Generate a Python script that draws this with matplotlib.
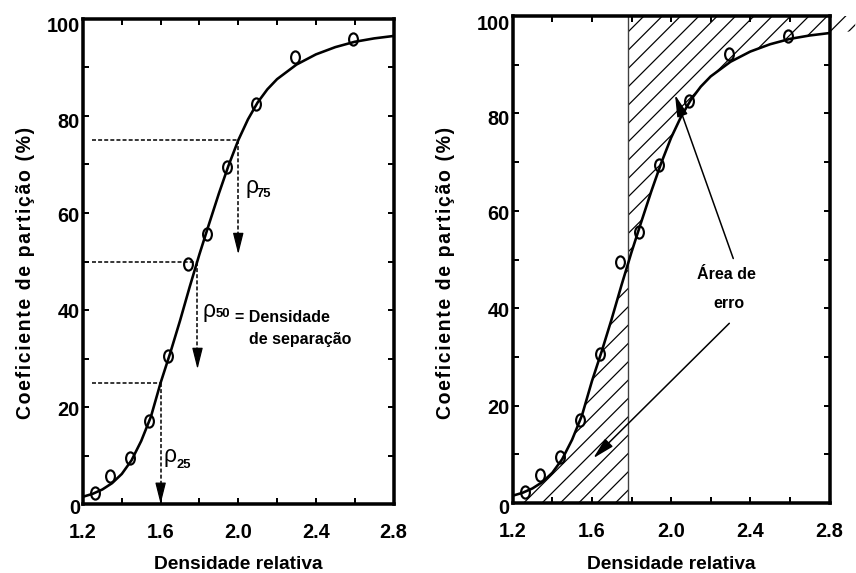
import matplotlib
matplotlib.use('Agg')
import matplotlib.pyplot as plt
import numpy as np
from matplotlib import font_manager
from matplotlib.path import Path
from matplotlib.transforms import Affine2D, ScaledTranslation
from matplotlib.patches import Rectangle

# pontos medidos (densidade relativa x coeficiente de particao)
dens = [1.26, 1.34, 1.44, 1.54, 1.64, 1.74, 1.84, 1.94, 2.09, 2.29, 2.59]
coef = [2.2, 5.7, 9.4, 17.1, 30.6, 49.5, 55.7, 69.5, 82.5, 92.2, 95.8]

# curva de particao
curve_x = [1.20, 1.25, 1.30, 1.35, 1.40, 1.45, 1.50, 1.55, 1.60, 1.65, 1.70,
           1.75, 1.80, 1.85, 1.90, 1.95, 2.00, 2.05, 2.10, 2.15, 2.20, 2.30,
           2.40, 2.50, 2.60, 2.70, 2.80]
curve_y = [1.5, 2.1, 3.0, 4.3, 6.2, 9.0, 13.0, 18.0, 25.0, 31.2, 37.8,
           44.8, 51.5, 57.8, 64.0, 69.8, 75.0, 79.3, 82.8, 85.5, 87.6, 90.6,
           92.7, 94.2, 95.3, 96.0, 96.5]

# rho25, rho50, rho75
rho_x = [1.60, 1.79, 2.00]
rho_y = [25, 50, 75]
rho_tip = [0.0, 27.8, 51.5]
rho_sub = ['25', '50', '75']

cut = 1.78  # densidade de corte (grafico da direita)

x_major = [1.2, 1.6, 2.0, 2.4, 2.8]
x_minor = [1.4, 1.8, 2.2, 2.6]
x_labels = ['1.2', '1.6', '2.0', '2.4', '2.8']
y_major = [0, 20, 40, 60, 80, 100]
y_minor = [10, 30, 50, 70, 90]
y_labels = ['0', '20', '40', '60', '80', '100']
y_shift = [3, 1, 1, 2, 4, 6]  # deslocamento (px) dos rotulos no original

DPI = 110
names = {f.name for f in font_manager.fontManager.ttflist}
if 'Liberation Sans Narrow' in names:
    NARROW = ['Liberation Sans Narrow', 'DejaVu Sans']
    k = 1.1
else:
    NARROW = ['Liberation Sans', 'DejaVu Sans']
    k = 1.0
WIDE = ['Liberation Sans', 'DejaVu Sans']

plt.rcParams['hatch.linewidth'] = 0.8

fig = plt.figure(figsize=(856 / DPI, 573 / DPI), dpi=DPI)
ax1 = fig.add_axes([83 / 856, 1 - 504 / 573, 310.5 / 856, 485 / 573])
ax2 = fig.add_axes([512.7 / 856, 1 - 503 / 573, 316.8 / 856, 487 / 573])

ylabel = '\u200a'.join('Coeficiente de partição (%)')
oval = Path.unit_circle().transformed(Affine2D().scale(0.72, 1.0))


def style(ax, lx, ly, xb):
    ax.set_xlim(1.2, 2.8)
    ax.set_ylim(0, 100)
    ax.set_xticks(x_major)
    ax.set_xticks(x_minor, minor=True)
    ax.set_yticks(y_major)
    ax.set_yticks(y_minor, minor=True)
    ax.set_xticklabels(x_labels, family=NARROW, weight='bold', fontsize=13 * k)
    ax.set_yticklabels(y_labels, family=NARROW, weight='bold', fontsize=13 * k)
    ax.tick_params(which='both', direction='in', top=True, right=True,
                   length=4, width=1.3)
    ax.tick_params(axis='x', pad=12.5)
    ax.tick_params(axis='y', pad=2)
    for tick, dy in zip(ax.yaxis.get_major_ticks(), y_shift):
        off = ScaledTranslation(0, -dy / DPI, fig.dpi_scale_trans)
        tick.label1.set_transform(tick.label1.get_transform() + off)
    for s in ax.spines.values():
        s.set_linewidth(2.3)
    ax.set_xlabel('Densidade relativa', family=NARROW, weight='bold',
                  fontsize=12.5 * k, va='baseline')
    ax.xaxis.set_label_coords(0.5, xb)
    ax.set_ylabel(ylabel, family=WIDE, weight='bold', fontsize=12.8, va='baseline')
    ax.yaxis.set_label_coords(lx, ly)


def curve_and_points(ax):
    ax.plot(curve_x, curve_y, color='k', lw=1.7, zorder=3)
    ax.plot(dens, coef, ls='none', marker=oval, ms=8, mfc='none',
            mec='k', mew=1.4, zorder=4)


# ---------------- grafico da esquerda ----------------
style(ax1, -0.1675, 0.476, -0.134)
curve_and_points(ax1)

dash = (0, (2.6, 1.4))
head = 3.7
for xr, yr, tip in zip(rho_x, rho_y, rho_tip):
    ax1.plot([1.245, xr], [yr, yr], color='k', lw=1, ls=dash)
    ax1.plot([xr, xr], [yr, tip + head], color='k', lw=1, ls=dash)
    ax1.annotate('', xy=(xr, tip), xytext=(xr, tip + head),
                 arrowprops=dict(arrowstyle='-|>,head_length=1.2,head_width=0.3',
                                 fc='k', ec='k', lw=0.8, shrinkA=0, shrinkB=0,
                                 mutation_scale=10))

rho_pos = [(1.617, 8.7), (1.818, 38.6), (2.035, 64.2)]
sub_pos = [(1.684, 7.4), (1.885, 38.5), (2.096, 63.2)]
for (px, py), (sx, sy), s in zip(rho_pos, sub_pos, rho_sub):
    ax1.text(px, py, 'ρ', family=WIDE, fontsize=15, va='baseline', ha='left')
    ax1.text(sx, sy, s, family=NARROW, weight='bold', fontsize=8.5 * k,
             va='baseline', ha='left')

ax1.text(1.983, 37.6, '= Densidade', family=NARROW, weight='bold',
         fontsize=10.5 * k, va='baseline', ha='left')
ax1.text(2.055, 32.9, 'de separação', family=NARROW, weight='bold',
         fontsize=10.5 * k, va='baseline', ha='left')

# ---------------- grafico da direita ----------------
style(ax2, -0.195, 0.472, -0.1355)

low = ax2.fill_between(curve_x, 0, curve_y, facecolor='none', edgecolor='k',
                       hatch='//', linewidth=0, zorder=1)
low.set_clip_path(Rectangle((1.2, 0), cut - 1.2, 100, transform=ax2.transData))
high = ax2.fill_between(curve_x, curve_y, 100, facecolor='none', edgecolor='k',
                        hatch='//', linewidth=0, zorder=1)
high.set_clip_path(Rectangle((cut, 0), 2.8 - cut, 100, transform=ax2.transData))
# pedaco da hachura que sai do quadro
ax2.fill_between([2.8, 2.93], [96.5, 96.9], 100, facecolor='none', edgecolor='k',
                 hatch='//', linewidth=0, clip_on=False, zorder=1)

ax2.plot([cut, cut], [0, 100], color='0.25', lw=0.9, zorder=2)
curve_and_points(ax2)

ax2.text(2.278, 45.9, 'Área de', family=NARROW, weight='bold', fontsize=10.5 * k,
         ha='center', va='baseline')
ax2.text(2.293, 40.0, 'erro', family=NARROW, weight='bold', fontsize=10.5 * k,
         ha='center', va='baseline')

for (x0, y0), (x1, y1) in [((2.314, 50.2), (2.020, 83.8)),
                           ((2.294, 36.9), (1.607, 9.2))]:
    ax2.annotate('', xy=(x1, y1), xytext=(x0, y0),
                 arrowprops=dict(arrowstyle='-|>,head_length=1.2,head_width=0.3',
                                 fc='k', ec='k', lw=1, shrinkA=0, shrinkB=0,
                                 mutation_scale=10))

fig.savefig('out.png', dpi=DPI)
